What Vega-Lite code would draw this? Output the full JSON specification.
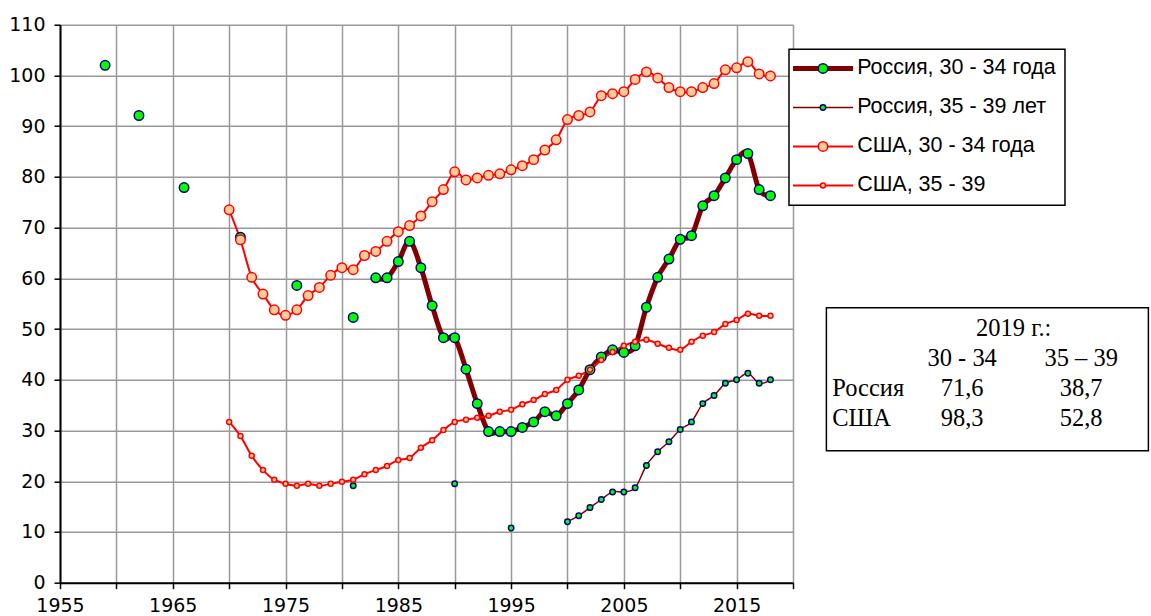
{
  "$schema": "https://vega.github.io/schema/vega-lite/v6.json",
  "autosize": {"type": "pad"},
  "padding": {"left": 8, "top": 15.7, "right": 0, "bottom": 0},
  "background": "white",
  "bounds": "flush",
  "spacing": 33.4,
  "config": {
    "font": "DejaVu Sans",
    "axis": {
      "labelFont": "DejaVu Sans", "labelFontSize": 19, "labelColor": "black",
      "domainColor": "black", "domainWidth": 2, "tickColor": "black", "tickWidth": 1.5, "tickSize": 6,
      "gridColor": "#999999", "gridWidth": 1.5, "title": null, "labelOverlap": false, "labelFlush": false
    }
  },
  "hconcat": [
    {
      "width": 733,
      "height": 558,
      "view": {"stroke": null},
      "data": {"values": [
        {"year":1959,"Россия, 30 - 34 года":102.0},
        {"year":1960},{"year":1961},
        {"year":1962,"Россия, 30 - 34 года":92.1},
        {"year":1963},{"year":1964},{"year":1965},
        {"year":1966,"Россия, 30 - 34 года":77.9},
        {"year":1967},{"year":1968},{"year":1969},
        {"year":1970,"США, 30 - 34 года":73.5,"США, 35 - 39":31.7},
        {"year":1971,"Россия, 30 - 34 года":68.1,"США, 30 - 34 года":67.6,"США, 35 - 39":28.9},
        {"year":1972,"США, 30 - 34 года":60.2,"США, 35 - 39":25.0},
        {"year":1973,"США, 30 - 34 года":56.9,"США, 35 - 39":22.2},
        {"year":1974,"США, 30 - 34 года":53.8,"США, 35 - 39":20.3},
        {"year":1975,"США, 30 - 34 года":52.7,"США, 35 - 39":19.5},
        {"year":1976,"Россия, 30 - 34 года":58.6,"США, 30 - 34 года":53.8,"США, 35 - 39":19.1},
        {"year":1977,"США, 30 - 34 года":56.6,"США, 35 - 39":19.5},
        {"year":1978,"США, 30 - 34 года":58.2,"США, 35 - 39":19.1},
        {"year":1979,"США, 30 - 34 года":60.6,"США, 35 - 39":19.5},
        {"year":1980,"США, 30 - 34 года":62.1,"США, 35 - 39":19.9},
        {"year":1981,"Россия, 30 - 34 года":52.3,"Россия, 35 - 39 лет":19.1,"США, 30 - 34 года":61.7,"США, 35 - 39":20.3},
        {"year":1982,"США, 30 - 34 года":64.5,"США, 35 - 39":21.4},
        {"year":1983,"Россия, 30 - 34 года":60.1,"США, 30 - 34 года":65.3,"США, 35 - 39":22.2},
        {"year":1984,"Россия, 30 - 34 года":60.1,"США, 30 - 34 года":67.3,"США, 35 - 39":23.0},
        {"year":1985,"Россия, 30 - 34 года":63.3,"США, 30 - 34 года":69.2,"США, 35 - 39":24.2},
        {"year":1986,"Россия, 30 - 34 года":67.3,"США, 30 - 34 года":70.4,"США, 35 - 39":24.6},
        {"year":1987,"Россия, 30 - 34 года":62.1,"США, 30 - 34 года":72.3,"США, 35 - 39":26.6},
        {"year":1988,"Россия, 30 - 34 года":54.6,"США, 30 - 34 года":75.1,"США, 35 - 39":28.1},
        {"year":1989,"Россия, 30 - 34 года":48.3,"США, 30 - 34 года":77.5,"США, 35 - 39":30.1},
        {"year":1990,"Россия, 30 - 34 года":48.3,"Россия, 35 - 39 лет":19.5,"США, 30 - 34 года":81.0,"США, 35 - 39":31.7},
        {"year":1991,"Россия, 30 - 34 года":42.1,"США, 30 - 34 года":79.4,"США, 35 - 39":32.1},
        {"year":1992,"Россия, 30 - 34 года":35.3,"США, 30 - 34 года":79.8,"США, 35 - 39":32.5},
        {"year":1993,"Россия, 30 - 34 года":29.8,"США, 30 - 34 года":80.3,"США, 35 - 39":32.9},
        {"year":1994,"Россия, 30 - 34 года":29.8,"США, 30 - 34 года":80.6,"США, 35 - 39":33.7},
        {"year":1995,"Россия, 30 - 34 года":29.8,"Россия, 35 - 39 лет":10.8,"США, 30 - 34 года":81.4,"США, 35 - 39":34.1},
        {"year":1996,"Россия, 30 - 34 года":30.6,"США, 30 - 34 года":82.2,"США, 35 - 39":35.2},
        {"year":1997,"Россия, 30 - 34 года":31.7,"США, 30 - 34 года":83.4,"США, 35 - 39":36.0},
        {"year":1998,"Россия, 30 - 34 года":33.7,"США, 30 - 34 года":85.3,"США, 35 - 39":37.2},
        {"year":1999,"Россия, 30 - 34 года":32.9,"США, 30 - 34 года":87.3,"США, 35 - 39":38.0},
        {"year":2000,"Россия, 30 - 34 года":35.3,"Россия, 35 - 39 лет":12.0,"США, 30 - 34 года":91.3,"США, 35 - 39":40.0},
        {"year":2001,"Россия, 30 - 34 года":38.0,"Россия, 35 - 39 лет":13.2,"США, 30 - 34 года":92.1,"США, 35 - 39":40.8},
        {"year":2002,"Россия, 30 - 34 года":42.0,"Россия, 35 - 39 лет":14.8,"США, 30 - 34 года":92.8,"США, 35 - 39":42.0},
        {"year":2003,"Россия, 30 - 34 года":44.5,"Россия, 35 - 39 лет":16.4,"США, 30 - 34 года":96.0,"США, 35 - 39":43.9},
        {"year":2004,"Россия, 30 - 34 года":45.9,"Россия, 35 - 39 лет":17.9,"США, 30 - 34 года":96.4,"США, 35 - 39":45.5},
        {"year":2005,"Россия, 30 - 34 года":45.4,"Россия, 35 - 39 лет":17.9,"США, 30 - 34 года":96.8,"США, 35 - 39":46.7},
        {"year":2006,"Россия, 30 - 34 года":46.7,"Россия, 35 - 39 лет":18.7,"США, 30 - 34 года":99.2,"США, 35 - 39":47.5},
        {"year":2007,"Россия, 30 - 34 года":54.3,"Россия, 35 - 39 лет":23.1,"США, 30 - 34 года":100.7,"США, 35 - 39":47.9},
        {"year":2008,"Россия, 30 - 34 года":60.2,"Россия, 35 - 39 лет":25.8,"США, 30 - 34 года":99.5,"США, 35 - 39":47.1},
        {"year":2009,"Россия, 30 - 34 года":63.8,"Россия, 35 - 39 лет":27.8,"США, 30 - 34 года":97.6,"США, 35 - 39":46.3},
        {"year":2010,"Россия, 30 - 34 года":67.7,"Россия, 35 - 39 лет":30.2,"США, 30 - 34 года":96.8,"США, 35 - 39":45.9},
        {"year":2011,"Россия, 30 - 34 года":68.4,"Россия, 35 - 39 лет":31.7,"США, 30 - 34 года":96.8,"США, 35 - 39":47.5},
        {"year":2012,"Россия, 30 - 34 года":74.3,"Россия, 35 - 39 лет":35.3,"США, 30 - 34 года":97.6,"США, 35 - 39":48.7},
        {"year":2013,"Россия, 30 - 34 года":76.3,"Россия, 35 - 39 лет":36.9,"США, 30 - 34 года":98.4,"США, 35 - 39":49.4},
        {"year":2014,"Россия, 30 - 34 года":79.8,"Россия, 35 - 39 лет":39.3,"США, 30 - 34 года":101.1,"США, 35 - 39":51.0},
        {"year":2015,"Россия, 30 - 34 года":83.4,"Россия, 35 - 39 лет":40.0,"США, 30 - 34 года":101.5,"США, 35 - 39":51.8},
        {"year":2016,"Россия, 30 - 34 года":84.6,"Россия, 35 - 39 лет":41.3,"США, 30 - 34 года":102.7,"США, 35 - 39":53.0},
        {"year":2017,"Россия, 30 - 34 года":77.5,"Россия, 35 - 39 лет":39.3,"США, 30 - 34 года":100.3,"США, 35 - 39":52.6},
        {"year":2018,"Россия, 30 - 34 года":76.3,"Россия, 35 - 39 лет":40.0,"США, 30 - 34 года":99.9,"США, 35 - 39":52.6}
      ]},
      "transform": [
        {"fold": ["Россия, 30 - 34 года", "Россия, 35 - 39 лет", "США, 30 - 34 года", "США, 35 - 39"], "as": ["series", "value"]}
      ],
      "encoding": {
        "x": {
          "field": "year", "type": "quantitative",
          "scale": {"domain": [1955, 2020], "nice": false, "zero": false},
          "axis": {
            "values": [1955,1960,1965,1970,1975,1980,1985,1990,1995,2000,2005,2010,2015,2020],
            "labelExpr": "datum.value % 10 == 5 ? datum.value : ''",
            "labelPadding": 8, "grid": true
          }
        },
        "y": {
          "field": "value", "type": "quantitative",
          "scale": {"domain": [0, 110], "nice": false},
          "axis": {"values": [0,10,20,30,40,50,60,70,80,90,100,110], "labelPadding": 9, "grid": true}
        }
      },
      "layer": [
        {
          "mark": {"type": "line", "interpolate": "cardinal", "invalid": "break-paths-filter-domains", "strokeCap": "butt", "strokeJoin": "round"},
          "encoding": {
            "color": {
              "field": "series", "type": "nominal",
              "scale": {"type": "ordinal", "range": ["#800000", "#800000", "#ff0000", "#ff0000"]},
              "legend": {
                "title": null, "orient": "none", "legendX": 729, "legendY": 24.5,
                "symbolType": "M-6,0L6,0", "symbolSize": 100,
                "padding": 8.5, "rowPadding": 16, "symbolOffset": 14.75, "labelOffset": 23.4,
                "labelFont": "Liberation Sans", "labelFontSize": 21.5, "labelColor": "black", "labelLimit": 400,
                "fillColor": "white", "strokeColor": "black", "zindex": 1,
                "encode": {"legend": {"update": {"strokeWidth": {"value": 1.5}}}}
              }
            },
            "strokeWidth": {
              "field": "series", "type": "nominal",
              "scale": {"type": "ordinal", "range": [5, 1.5, 2, 2]},
              "legend": {
                "title": null, "orient": "none", "legendX": 729, "legendY": 24.5,
                "symbolType": "M-6,0L6,0", "symbolSize": 100,
                "padding": 8.5, "rowPadding": 16, "symbolOffset": 14.75, "labelOffset": 23.4,
                "labelFont": "Liberation Sans", "labelFontSize": 21.5, "labelColor": "black", "labelLimit": 400,
                "fillColor": "white", "strokeColor": "black", "zindex": 1,
                "encode": {"legend": {"update": {"strokeWidth": {"value": 1.5}}}}
              }
            }
          }
        },
        {
          "transform": [{"filter": "isValid(datum.value)"}],
          "mark": {"type": "point", "shape": "circle", "filled": true, "opacity": 1, "strokeWidth": 1.5},
          "encoding": {
            "fill": {
              "field": "series", "type": "nominal",
              "scale": {"type": "ordinal", "range": ["#00ff00", "#00ff00", "#ffcc99", "#ffcc99"]},
              "legend": {
                "title": null, "orient": "none", "legendX": 729, "legendY": 24.5,
                "symbolType": "circle", "symbolStrokeWidth": 1.5,
                "padding": 8.5, "rowPadding": 16, "symbolOffset": 14.75, "labelOffset": 23.4,
                "labelFont": "Liberation Sans", "labelFontSize": 21.5, "labelOpacity": 0, "labelLimit": 400, "zindex": 2
              }
            },
            "stroke": {
              "field": "series", "type": "nominal",
              "scale": {"type": "ordinal", "range": ["#000080", "#000080", "#ff0000", "#ff0000"]},
              "legend": {
                "title": null, "orient": "none", "legendX": 729, "legendY": 24.5,
                "symbolType": "circle", "symbolStrokeWidth": 1.5,
                "padding": 8.5, "rowPadding": 16, "symbolOffset": 14.75, "labelOffset": 23.4,
                "labelFont": "Liberation Sans", "labelFontSize": 21.5, "labelOpacity": 0, "labelLimit": 400, "zindex": 2
              }
            },
            "size": {
              "field": "series", "type": "nominal",
              "scale": {"type": "ordinal", "range": [90, 30, 90, 25]},
              "legend": {
                "title": null, "orient": "none", "legendX": 729, "legendY": 24.5,
                "symbolType": "circle", "symbolStrokeWidth": 1.5,
                "padding": 8.5, "rowPadding": 16, "symbolOffset": 14.75, "labelOffset": 23.4,
                "labelFont": "Liberation Sans", "labelFontSize": 21.5, "labelOpacity": 0, "labelLimit": 400, "zindex": 2
              }
            }
          }
        }
      ]
    },
    {
      "spacing": 0,
      "bounds": "flush",
      "vconcat": [
        {
          "width": 322,
          "height": 282.3,
          "view": {"stroke": null},
          "data": {"values": []},
          "mark": "point",
          "encoding": {}
        },
        {
          "width": 322,
          "height": 143,
          "view": {"stroke": "black", "strokeWidth": 1.5},
          "data": {"values": [
            {"r": "r0", "c": "t", "text": "2019 г.:"},
            {"r": "r1", "c": "a", "text": "30 - 34"},
            {"r": "r1", "c": "b", "text": "35 – 39"},
            {"r": "r2", "c": "lbl", "text": "Россия"},
            {"r": "r2", "c": "a", "text": "71,6"},
            {"r": "r2", "c": "b", "text": "38,7"},
            {"r": "r3", "c": "lbl", "text": "США"},
            {"r": "r3", "c": "a", "text": "98,3"},
            {"r": "r3", "c": "b", "text": "52,8"}
          ]},
          "encoding": {
            "x": {"field": "c", "type": "nominal", "scale": {"type": "point", "domain": ["lbl", "g", "a", "t", "b"], "padding": 0.706, "align": 0.2}, "axis": null},
            "y": {"field": "r", "type": "nominal", "scale": {"type": "point", "domain": ["r0", "r1", "r2", "r3"], "padding": 0.883, "align": 0.396}, "axis": null},
            "text": {"field": "text", "type": "nominal"}
          },
          "layer": [
            {
              "transform": [{"filter": "datum.c == 'lbl'"}],
              "mark": {"type": "text", "align": "left", "dx": -11, "baseline": "middle", "font": "Liberation Serif", "fontSize": 24.5, "color": "black"}
            },
            {
              "transform": [{"filter": "datum.c == 't'"}],
              "mark": {"type": "text", "align": "center", "dx": -8, "baseline": "middle", "font": "Liberation Serif", "fontSize": 24.5, "color": "black"}
            },
            {
              "transform": [{"filter": "datum.c == 'a' || datum.c == 'b'"}],
              "mark": {"type": "text", "align": "center", "baseline": "middle", "font": "Liberation Serif", "fontSize": 24.5, "color": "black"}
            }
          ]
        }
      ]
    }
  ]
}
